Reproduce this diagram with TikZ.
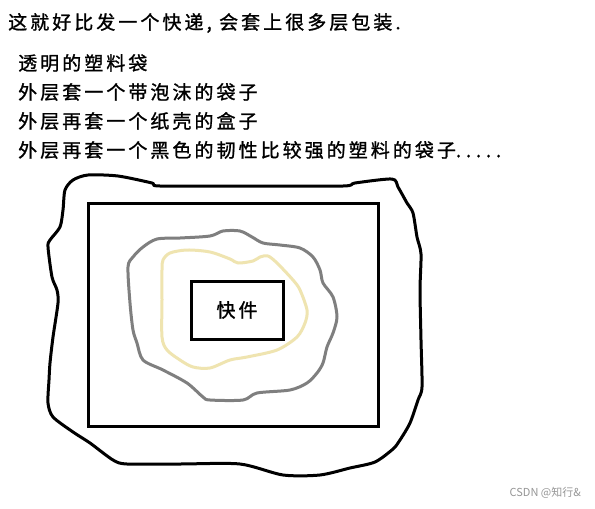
\documentclass[tikz,border=0pt]{standalone}
\usepackage{fontspec}
\newfontfamily\cjk[LetterSpace=16, FakeBold=1.2]{Noto Sans CJK SC}
\newfontfamily\cjkplain{Noto Sans CJK SC}
\definecolor{paintgray}{RGB}{127,127,127}
\definecolor{beigeline}{RGB}{239,228,176}
\definecolor{markgray}{RGB}{150,150,150}
\newcommand{\wdot}{\hbox to 10pt{.\hfil}}
\begin{document}
\begin{tikzpicture}[x=1pt,y=-1pt,
  txt/.style={anchor=west, inner sep=0pt, font=\cjk\fontsize{19}{19}\selectfont},
  blob/.style={line width=3pt, line join=round},
  boxline/.style={draw=black, line width=3pt}]
\useasboundingbox[fill=white] (0,0) rectangle (595,509);

% texts
\node[txt] (t1) at (8,23) {这就好比发一个快递, 会套上很多层包装.};
\node[txt] (t2) at (18,63) {透明的塑料袋};
\node[txt] (t3) at (18,92) {外层套一个带泡沫的袋子};
\node[txt] (t4) at (18,121) {外层再套一个纸壳的盒子};
\node[txt] (t5) at (18,150) {外层再套一个黑色的韧性比较强的塑料的袋子\wdot\wdot\wdot\wdot\wdot};

% outer black bag
\draw[blob, black] plot[smooth cycle, tension=0.45] coordinates {
 (88,175) (118,176) (152,183) (160,186) (250,186) (343,186) (355,183)
 (392,179) (398,187) (407,203) (413,213) (417,237) (421,254) (420,290)
 (421,340) (422,387) (418,400) (410,423) (400,440) (393,449) (375,462)
 (350,468) (320,475) (283,475) (240,464) (180,464) (127,464) (113,460)
 (90,443) (73,432) (53,417) (48,403) (49,380) (50,363) (53,337)
 (58,303) (57,290) (52,277) (48,247) (50,240) (60,227) (63,210)
 (65,190) (73,180)};

% carton box
\node[boxline, minimum width=290pt, minimum height=223pt, inner sep=0pt] (box) at (233,314.5) {};

% foam bag (gray)
\draw[blob, paintgray] plot[smooth cycle, tension=0.5] coordinates {
 (157,239) (180,238) (210,236) (223,231) (240,231) (252,237) (263,243)
 (280,245) (300,248) (313,257) (320,270) (323,283) (333,297) (337,317)
 (333,333) (327,347) (323,363) (317,373) (307,383) (290,390) (257,393)
 (243,400) (210,400) (203,397) (187,383) (163,370) (143,360) (137,343)
 (133,330) (130,303) (128,267) (133,257) (143,247)};

% transparent bag (beige)
\draw[blob, beigeline] plot[smooth cycle, tension=0.5] coordinates {
 (163,260) (170,253) (187,250) (210,252) (230,259) (238,263) (253,261)
 (260,257) (268,256) (277,263) (293,280) (300,290) (307,310) (305,323)
 (297,337) (277,350) (247,357) (230,360) (210,368) (193,367) (180,360)
 (167,350) (162,337) (162,300) (162,270)};

% item
\node[boxline, minimum width=92pt, minimum height=58pt, inner sep=0pt,
  font=\cjk\fontsize{19}{19}\selectfont] (item) at (237,310) {快件};

% watermark
\node[anchor=east, inner sep=0pt, text=markgray, font=\cjkplain\fontsize{11}{11}\selectfont] (wm) at (581,493) {CSDN @知行\&};
\end{tikzpicture}
\end{document}
